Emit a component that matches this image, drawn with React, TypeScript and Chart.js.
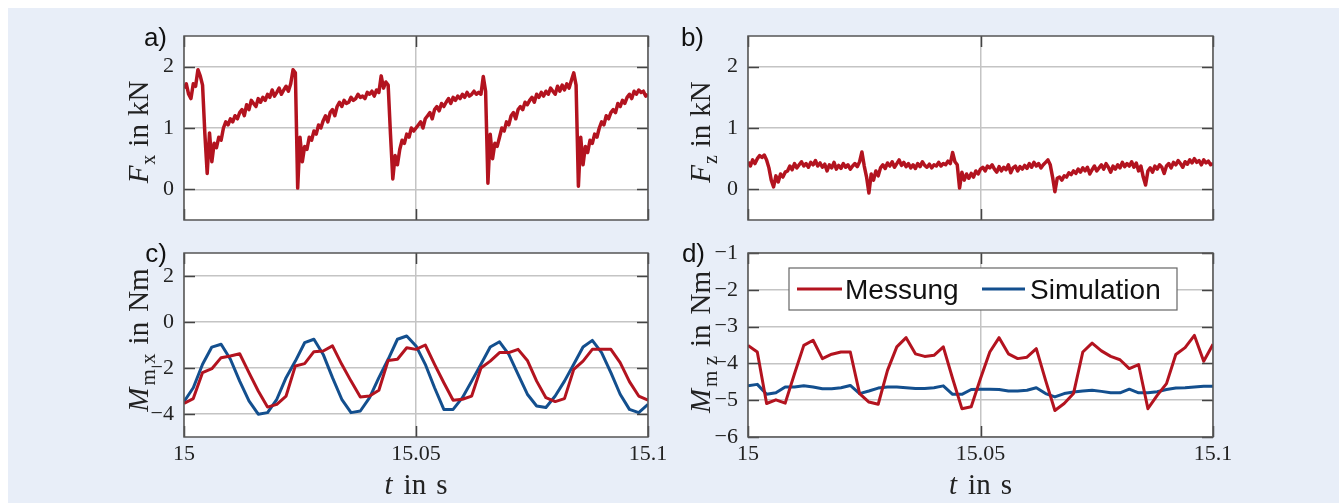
import React, { useEffect, useRef } from "react";
import { Chart, registerables } from "chart.js";

Chart.register(...registerables);

// ---------- data ----------
const T_START = 15;
const T_END = 15.1;
const DT_FORCE = 0.0005; // s, sampling of force signals
const DT_MOMENT = 0.002; // s, sampling of moment signals

const X_TICKS = [15, 15.05, 15.1];
const X_TICK_LABELS = ["15", "15.05", "15.1"];

const FX_TICKS = [0, 1, 2];
const FX_TICK_LABELS = ["0", "1", "2"];
const FZ_TICKS = [0, 1, 2];
const FZ_TICK_LABELS = ["0", "1", "2"];
const MX_TICKS = [-4, -2, 0, 2];
const MX_TICK_LABELS = ["\u22124", "\u22122", "0", "2"];
const MZ_TICKS = [-6, -5, -4, -3, -2, -1];
const MZ_TICK_LABELS = ["\u22126", "\u22125", "\u22124", "\u22123", "\u22122", "\u22121"];

const SERIES_LABELS = ["Messung", "Simulation"];

// F_x in kN (Messung)
const FX = [
  1.65, 1.72, 1.55, 1.48, 1.72, 1.68, 1.95, 1.85, 1.7, 0.9,
  0.26, 0.92, 0.45, 0.75, 0.68, 0.85, 0.8, 1.0, 1.1, 1.05,
  1.15, 1.1, 1.2, 1.15, 1.25, 1.3, 1.2, 1.38, 1.3, 1.45,
  1.4, 1.35, 1.48, 1.42, 1.5, 1.45, 1.55, 1.5, 1.62, 1.52,
  1.58, 1.65, 1.55, 1.62, 1.68, 1.6, 1.72, 1.95, 1.9, 0.02,
  0.85, 0.45, 0.7, 0.65, 0.85, 0.8, 0.95, 0.9, 1.05, 1.0,
  1.12, 1.2, 1.1, 1.25, 1.3, 1.2, 1.35, 1.42, 1.35, 1.45,
  1.4, 1.42, 1.5, 1.45, 1.48, 1.55, 1.5, 1.52, 1.48, 1.58,
  1.55, 1.6, 1.52, 1.62, 1.58, 1.85, 1.65, 1.75, 1.7, 0.9,
  0.17, 0.55, 0.4, 0.65, 0.8, 0.75, 0.9, 0.85, 1.0, 0.95,
  1.0, 1.05, 1.1, 1.0, 1.15, 1.2, 1.25, 1.15, 1.3, 1.35,
  1.28, 1.4, 1.35, 1.42, 1.48, 1.4, 1.5, 1.45, 1.52, 1.48,
  1.55, 1.5, 1.58, 1.52, 1.55, 1.6, 1.55, 1.58, 1.55, 1.84,
  1.6, 0.1, 0.9, 0.5, 0.75, 0.7, 0.85, 1.0, 0.95, 1.1,
  1.05, 1.2, 1.25, 1.15, 1.3, 1.35, 1.3, 1.42, 1.38, 1.45,
  1.5, 1.42, 1.55, 1.5, 1.58, 1.52, 1.6, 1.55, 1.65, 1.6,
  1.55, 1.68, 1.6, 1.7, 1.62, 1.72, 1.65, 1.78, 1.9, 1.7,
  0.05, 0.85, 0.4, 0.7, 0.6, 0.8, 0.75, 0.9, 0.85, 1.0,
  1.1, 1.05, 1.2, 1.15, 1.25, 1.3, 1.25, 1.4, 1.35, 1.45,
  1.4, 1.5, 1.55, 1.48, 1.6, 1.55, 1.62, 1.58, 1.6, 1.52,
  1.55,
];

// F_z in kN (Messung)
const FZ = [
  0.45, 0.38, 0.48, 0.42, 0.5, 0.55, 0.52, 0.56, 0.48, 0.35,
  0.15, 0.04, 0.22, 0.12, 0.25, 0.2, 0.28, 0.3, 0.38, 0.32,
  0.42, 0.35, 0.4, 0.45, 0.38, 0.42, 0.36, 0.44, 0.4, 0.47,
  0.38, 0.43, 0.36, 0.41, 0.3, 0.4, 0.35, 0.44, 0.33, 0.39,
  0.34, 0.42, 0.36, 0.4, 0.33, 0.38, 0.42, 0.37, 0.45, 0.61,
  0.38, 0.2, -0.06, 0.25, 0.15, 0.3, 0.22, 0.35, 0.4, 0.34,
  0.43, 0.38, 0.45, 0.36, 0.42, 0.48, 0.39, 0.44, 0.37, 0.42,
  0.35, 0.4, 0.34, 0.42, 0.37, 0.45, 0.39, 0.36, 0.41, 0.35,
  0.4, 0.38, 0.44, 0.38, 0.42, 0.4, 0.46, 0.42, 0.6, 0.45,
  0.4, 0.02, 0.28, 0.15, 0.25, 0.18, 0.26, 0.2, 0.3, 0.25,
  0.33, 0.36, 0.3, 0.38, 0.35, 0.4, 0.33, 0.28, 0.37, 0.3,
  0.36, 0.32, 0.4, 0.27, 0.35, 0.38, 0.3, 0.37, 0.33, 0.39,
  0.34, 0.42, 0.36, 0.44, 0.38, 0.42, 0.35, 0.4, 0.44, 0.48,
  0.4, 0.2, -0.04, 0.18, 0.2, 0.15, 0.22, 0.2, 0.27, 0.24,
  0.3, 0.26, 0.33, 0.28, 0.35, 0.3, 0.36, 0.25, 0.32, 0.38,
  0.3, 0.35, 0.4, 0.33, 0.42, 0.36, 0.28, 0.38, 0.33, 0.4,
  0.35, 0.44, 0.37, 0.42, 0.38, 0.45, 0.36, 0.43, 0.3, 0.38,
  0.2, 0.07, 0.3, 0.35, 0.28, 0.38, 0.33, 0.4, 0.36, 0.26,
  0.38, 0.42, 0.35, 0.44, 0.4, 0.47, 0.42, 0.36, 0.45, 0.41,
  0.48, 0.43, 0.5, 0.44, 0.47, 0.4, 0.48, 0.43, 0.46, 0.4,
  0.42,
];

// M_mx in Nm
const MX_MEAS = [
  -3.54, -3.33, -2.2, -2.03, -1.55, -1.48, -1.38, -2.2, -3.0, -3.7,
  -3.58, -3.22, -1.91, -1.81, -1.29, -1.26, -1.04, -1.84, -2.57, -3.26,
  -3.22, -2.97, -1.67, -1.62, -1.12, -1.19, -1.0, -1.84, -2.64, -3.4,
  -3.36, -3.22, -2.0, -1.7, -1.33, -1.33, -1.19, -1.67, -2.57, -3.29,
  -3.46, -3.33, -2.06, -1.7, -1.19, -1.19, -1.19, -1.77, -2.59, -3.22,
  -3.4,
];
const MX_SIM = [
  -3.46, -2.86, -1.84, -1.09, -0.97, -1.62, -2.57, -3.43, -4.01, -3.94,
  -3.36, -2.42, -1.7, -0.9, -0.75, -1.41, -2.42, -3.36, -3.94, -3.87,
  -3.29, -2.42, -1.62, -0.75, -0.61, -1.04, -1.84, -2.86, -3.8, -3.8,
  -3.29, -2.57, -1.84, -1.09, -0.86, -1.41, -2.28, -3.14, -3.65, -3.72,
  -3.22, -2.57, -1.84, -1.09, -0.8, -1.33, -2.2, -3.14, -3.8, -3.94,
  -3.58,
];

// M_mz in Nm
const MZ_MEAS = [
  -3.51, -3.69, -5.09, -4.99, -5.08, -4.28, -3.51, -3.37, -3.87, -3.75,
  -3.69, -3.69, -4.82, -5.05, -5.11, -4.19, -3.55, -3.3, -3.74, -3.81,
  -3.78, -3.55, -4.41, -5.23, -5.18, -4.41, -3.69, -3.3, -3.74, -3.87,
  -3.83, -3.6, -4.46, -5.28, -5.09, -4.82, -3.69, -3.45, -3.66, -3.81,
  -3.9, -4.14, -4.03, -5.23, -4.87, -4.55, -3.76, -3.57, -3.24, -3.94,
  -3.48,
];
const MZ_SIM = [
  -4.61, -4.57, -4.84, -4.8, -4.64, -4.64, -4.61, -4.64, -4.69, -4.69,
  -4.66, -4.6, -4.82, -4.75, -4.67, -4.64, -4.64, -4.66, -4.68, -4.68,
  -4.66, -4.61, -4.84, -4.84, -4.71, -4.7, -4.7, -4.71, -4.75, -4.75,
  -4.73, -4.66, -4.82, -4.91, -4.82, -4.78, -4.75, -4.73, -4.76, -4.8,
  -4.8, -4.7, -4.8, -4.8, -4.77, -4.71, -4.67, -4.66, -4.64, -4.62,
  -4.62,
];

// ---------- styling ----------
const RED = "#b3131f";
const BLUE = "#134f8e";
const BG = "#e8eef8";
const GRID = "#c4c4c4";
const AXIS = "#555555";
const TEXT = "#222222";
const SERIF = "'Liberation Serif', 'DejaVu Serif', serif";
const SANS = "'Liberation Sans', Arial, sans-serif";

type Series = { label: string; values: number[]; dt: number; color: string; width: number };
type Part = { text: string; font: string; shift?: number; gap?: number };
type Panel = {
  id: string;
  tag: string;
  canvasLeft: number;
  canvasTop: number;
  width: number;
  height: number;
  padTop: number;
  padRight: number;
  yWidth: number;
  xHeight: number;
  yMin: number;
  yMax: number;
  yTicks: number[];
  yTickLabels: string[];
  series: Series[];
  showX: boolean;
  title: Part[];
  titleOffset: number;
  titleShift: number;
  tagOffset: number;
  tagBaseline: number;
  legend: boolean;
};

const TITLE_SIZE = 29;
const SUB_SIZE = 20;
const italic = `italic ${TITLE_SIZE}px ${SERIF}`;
const upright = `${TITLE_SIZE}px ${SERIF}`;
const sub = `${SUB_SIZE}px ${SERIF}`;
const subM = `21px ${SERIF}`;

const PANELS: Panel[] = [
  {
    id: "a", tag: "a)", canvasLeft: 84, canvasTop: 6, width: 594, height: 224,
    padTop: 30, padRight: 30, yWidth: 100, xHeight: 10,
    yMin: -0.5, yMax: 2.5, yTicks: FX_TICKS, yTickLabels: FX_TICK_LABELS,
    series: [{ label: SERIES_LABELS[0], values: FX, dt: DT_FORCE, color: RED, width: 3.5 }],
    showX: false,
    title: [
      { text: "F", font: italic, gap: 1 },
      { text: "x", font: sub, shift: 7, gap: 8 },
      { text: "in", font: upright, gap: 8 },
      { text: "kN", font: upright },
    ],
    titleOffset: 36, titleShift: 4, tagOffset: 17, tagBaseline: 10, legend: false,
  },
  {
    id: "b", tag: "b)", canvasLeft: 648, canvasTop: 6, width: 595, height: 224,
    padTop: 30, padRight: 30, yWidth: 100, xHeight: 10,
    yMin: -0.5, yMax: 2.5, yTicks: FZ_TICKS, yTickLabels: FZ_TICK_LABELS,
    series: [{ label: SERIES_LABELS[0], values: FZ, dt: DT_FORCE, color: RED, width: 3.5 }],
    showX: false,
    title: [
      { text: "F", font: italic, gap: 1 },
      { text: "z", font: sub, shift: 7, gap: 8 },
      { text: "in", font: upright, gap: 8 },
      { text: "kN", font: upright },
    ],
    titleOffset: 38, titleShift: 4, tagOffset: 44, tagBaseline: 10, legend: false,
  },
  {
    id: "c", tag: "c)", canvasLeft: 84, canvasTop: 223, width: 594, height: 280,
    padTop: 30, padRight: 30, yWidth: 100, xHeight: 66,
    yMin: -5, yMax: 3, yTicks: MX_TICKS, yTickLabels: MX_TICK_LABELS,
    series: [
      { label: SERIES_LABELS[0], values: MX_MEAS, dt: DT_MOMENT, color: RED, width: 3 },
      { label: SERIES_LABELS[1], values: MX_SIM, dt: DT_MOMENT, color: BLUE, width: 3 },
    ],
    showX: true,
    title: [
      { text: "M", font: italic, gap: 2 },
      { text: "m x", font: subM, shift: 7, gap: 9 },
      { text: "in", font: upright, gap: 10 },
      { text: "Nm", font: upright },
    ],
    titleOffset: 36, titleShift: -5, tagOffset: 17, tagBaseline: 9, legend: false,
  },
  {
    id: "d", tag: "d)", canvasLeft: 648, canvasTop: 223, width: 595, height: 280,
    padTop: 30, padRight: 30, yWidth: 100, xHeight: 66,
    yMin: -6, yMax: -1, yTicks: MZ_TICKS, yTickLabels: MZ_TICK_LABELS,
    series: [
      { label: SERIES_LABELS[0], values: MZ_MEAS, dt: DT_MOMENT, color: RED, width: 3 },
      { label: SERIES_LABELS[1], values: MZ_SIM, dt: DT_MOMENT, color: BLUE, width: 3 },
    ],
    showX: true,
    title: [
      { text: "M", font: italic, gap: 2 },
      { text: "m z", font: subM, shift: 7, gap: 9 },
      { text: "in", font: upright, gap: 10 },
      { text: "Nm", font: upright },
    ],
    titleOffset: 38, titleShift: -3, tagOffset: 43, tagBaseline: 9, legend: true,
  },
];

function drawParts(ctx: CanvasRenderingContext2D, parts: Part[], cx: number, baseY: number) {
  let total = 0;
  const widths = parts.map((p, i) => {
    ctx.font = p.font;
    const w = ctx.measureText(p.text).width;
    total += w + (i < parts.length - 1 ? p.gap || 0 : 0);
    return w;
  });
  let x = cx - total / 2;
  parts.forEach((p, i) => {
    ctx.font = p.font;
    ctx.fillText(p.text, x, baseY + (p.shift || 0));
    x += widths[i] + (p.gap || 0);
  });
}

function makePlugin(p: Panel) {
  return {
    id: "panelDeco" + p.id,
    beforeDraw(chart: any) {
      const { ctx, chartArea: a } = chart;
      ctx.save();
      ctx.fillStyle = "#ffffff";
      ctx.fillRect(a.left, a.top, a.right - a.left, a.bottom - a.top);
      ctx.restore();
    },
    afterDraw(chart: any) {
      const { ctx, chartArea: a } = chart;
      const xs = chart.scales.x;
      const ys = chart.scales.y;
      ctx.save();
      // inward tick marks
      ctx.strokeStyle = "#444444";
      ctx.lineWidth = 1.5;
      const tl = 11;
      ctx.beginPath();
      p.yTicks.forEach((v) => {
        const py = Math.round(ys.getPixelForValue(v)) + 0.5;
        ctx.moveTo(a.left, py);
        ctx.lineTo(a.left + tl, py);
        ctx.moveTo(a.right, py);
        ctx.lineTo(a.right - tl, py);
      });
      X_TICKS.forEach((v) => {
        const px = Math.round(xs.getPixelForValue(v)) + 0.5;
        ctx.moveTo(px, a.top);
        ctx.lineTo(px, a.top + tl);
        ctx.moveTo(px, a.bottom);
        ctx.lineTo(px, a.bottom - tl);
      });
      ctx.stroke();
      // box
      ctx.strokeStyle = AXIS;
      ctx.lineWidth = 1.5;
      ctx.strokeRect(a.left, a.top, a.right - a.left, a.bottom - a.top);

      // legend
      if (p.legend) {
        const lx = a.left + 41;
        const ly = a.top + 15;
        const lw = 388;
        const lh = 42;
        ctx.fillStyle = "#ffffff";
        ctx.fillRect(lx, ly, lw, lh);
        ctx.strokeStyle = "#666666";
        ctx.lineWidth = 1.2;
        ctx.strokeRect(lx, ly, lw, lh);
        const items = [
          { x0: lx + 8, x1: lx + 53, tx: lx + 56, label: chart.data.datasets[0].label, color: chart.data.datasets[0].borderColor },
          { x0: lx + 193, x1: lx + 236, tx: lx + 241, label: chart.data.datasets[1].label, color: chart.data.datasets[1].borderColor },
        ];
        const my = ly + lh / 2;
        items.forEach((it) => {
          ctx.strokeStyle = it.color;
          ctx.lineWidth = 3;
          ctx.beginPath();
          ctx.moveTo(it.x0, my);
          ctx.lineTo(it.x1, my);
          ctx.stroke();
          ctx.fillStyle = "#111111";
          ctx.font = `28px ${SANS}`;
          ctx.textBaseline = "alphabetic";
          ctx.textAlign = "left";
          ctx.fillText(it.label, it.tx, my + 10);
        });
      }

      // panel tag
      ctx.fillStyle = "#111111";
      ctx.font = `26px ${SANS}`;
      ctx.textAlign = "right";
      ctx.textBaseline = "alphabetic";
      ctx.fillText(p.tag, a.left - p.tagOffset, a.top + p.tagBaseline);

      // y title (rotated)
      ctx.textAlign = "left";
      ctx.fillStyle = TEXT;
      ctx.save();
      ctx.translate(a.left - p.titleOffset, (a.top + a.bottom) / 2 + p.titleShift);
      ctx.rotate(-Math.PI / 2);
      drawParts(ctx, p.title, 0, 0);
      ctx.restore();

      // x title
      if (p.showX) {
        drawParts(
          ctx,
          [
            { text: "t", font: italic, gap: 11 },
            { text: "in", font: upright, gap: 10 },
            { text: "s", font: upright },
          ],
          (a.left + a.right) / 2,
          a.bottom + 57
        );
      }
      ctx.restore();
    },
  };
}

function PanelChart({ panel }: { panel: Panel }) {
  const ref = useRef<HTMLCanvasElement | null>(null);
  useEffect(() => {
    if (!ref.current) return;
    const p = panel;
    const fixY = (scale: any) => {
      scale.width = p.yWidth;
      scale.paddingTop = 0;
      scale.paddingBottom = 0;
      scale.paddingLeft = 0;
      scale.paddingRight = 0;
    };
    const fixX = (scale: any) => {
      scale.height = p.xHeight;
      scale.paddingTop = 0;
      scale.paddingBottom = 0;
      scale.paddingLeft = 0;
      scale.paddingRight = 0;
    };
    const chart = new Chart(ref.current, {
      type: "line",
      data: {
        datasets: p.series.map((s) => ({
          label: s.label,
          data: s.values.map((v, i) => ({ x: T_START + i * s.dt, y: v })),
          borderColor: s.color,
          backgroundColor: s.color,
          borderWidth: s.width,
          pointRadius: 0,
          tension: 0,
          borderJoinStyle: "round" as const,
          fill: false,
        })),
      },
      options: {
        animation: false,
        responsive: false,
        devicePixelRatio: 1,
        layout: { padding: { left: 0, top: p.padTop, right: p.padRight, bottom: 0 } },
        plugins: { legend: { display: false }, tooltip: { enabled: false } },
        events: [],
        scales: {
          x: {
            type: "linear",
            min: T_START,
            max: T_END,
            afterBuildTicks: (scale: any) => {
              scale.ticks = X_TICKS.map((v) => ({ value: v }));
            },
            afterFit: fixX,
            border: { display: false },
            grid: { color: GRID, lineWidth: 1.5, drawTicks: false },
            ticks: {
              display: p.showX,
              autoSkip: false,
              maxRotation: 0,
              padding: 4,
              color: TEXT,
              font: { family: SERIF, size: 22 },
              callback: (_v: any, i: number) => X_TICK_LABELS[i],
            },
          },
          y: {
            type: "linear",
            min: p.yMin,
            max: p.yMax,
            afterBuildTicks: (scale: any) => {
              scale.ticks = p.yTicks.map((v) => ({ value: v }));
            },
            afterFit: fixY,
            border: { display: false },
            grid: { color: GRID, lineWidth: 1.5, drawTicks: false },
            ticks: {
              autoSkip: false,
              padding: 10,
              color: TEXT,
              font: { family: SERIF, size: 22 },
              callback: (_v: any, i: number) => p.yTickLabels[i],
            },
          },
        },
      },
      plugins: [makePlugin(p)],
    } as any);
    return () => chart.destroy();
  }, [panel]);
  return (
    <canvas
      ref={ref}
      width={panel.width}
      height={panel.height}
      style={{
        position: "absolute",
        left: panel.canvasLeft,
        top: panel.canvasTop,
        width: panel.width,
        height: panel.height,
      }}
    />
  );
}

export default function App() {
  return (
    <div
      style={{
        position: "fixed",
        left: 0,
        top: 0,
        width: 1339,
        height: 503,
        background: "#ffffff",
        overflow: "hidden",
      }}
    >
      <div
        style={{
          position: "absolute",
          left: 8,
          top: 8,
          right: 0,
          bottom: 0,
          background: BG,
        }}
      />
      {PANELS.map((p) => (
        <PanelChart key={p.id} panel={p} />
      ))}
    </div>
  );
}
